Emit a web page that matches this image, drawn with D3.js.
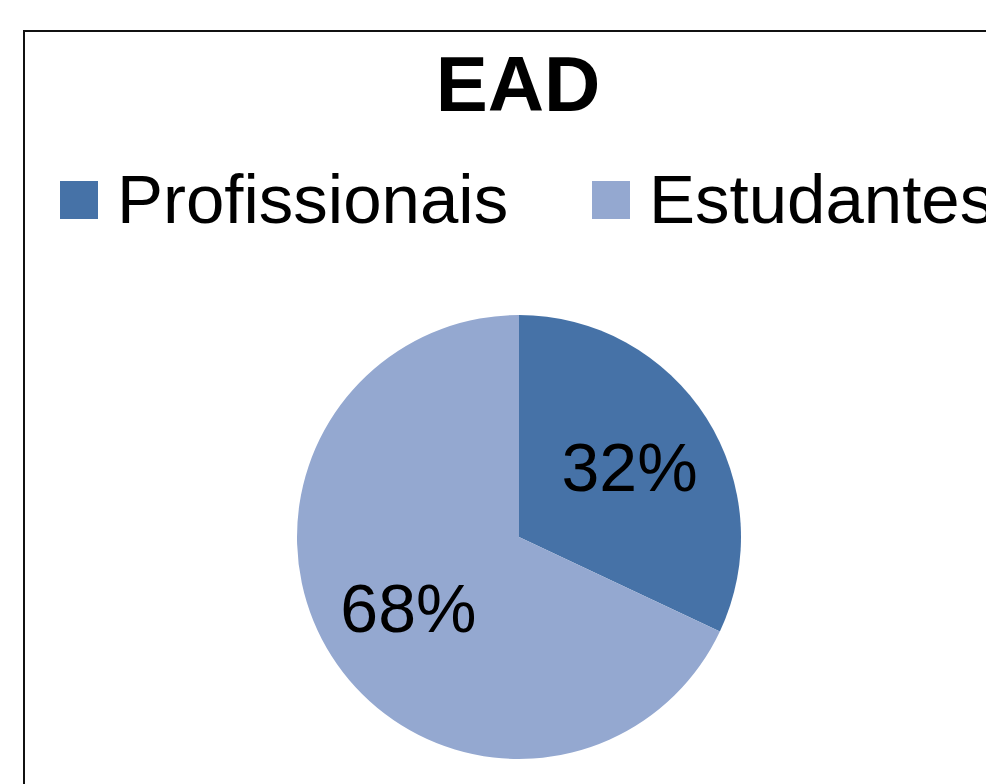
<!DOCTYPE html>
<html>
<head>
<meta charset="utf-8">
<script src="https://cdn.jsdelivr.net/npm/d3@7"></script>
<style>
  body { margin: 0; background: #fff; }
  text { font-family: "Liberation Sans", Arial, sans-serif; fill: #000; }
</style>
</head>
<body>
<div id="chart"></div>
<script>
// data
const categories = ["Profissionais", "Estudantes"];
const values = [32, 68];
const labels = ["32%", "68%"];
const colors = ["#4672a7", "#94a8d0"];

const width = 986, height = 784;

const svg = d3.select("#chart").append("svg")
    .attr("width", width)
    .attr("height", height);

// chart frame (runs off the right and bottom of the picture)
svg.append("rect")
    .attr("x", 24).attr("y", 31)
    .attr("width", 1100).attr("height", 900)
    .attr("fill", "#fff")
    .attr("stroke", "#111")
    .attr("stroke-width", 2);

// title
svg.append("text")
    .attr("x", 518).attr("y", 111)
    .attr("text-anchor", "middle")
    .attr("font-weight", "bold")
    .attr("font-size", 78)
    .text("EAD");

// legend
const legendX = [60, 592];
const legend = svg.append("g");
legend.selectAll("rect")
    .data(categories)
    .enter().append("rect")
    .attr("x", (d, i) => legendX[i])
    .attr("y", 181)
    .attr("width", 38).attr("height", 38)
    .attr("fill", (d, i) => colors[i]);
legend.selectAll("text")
    .data(categories)
    .enter().append("text")
    .attr("x", (d, i) => legendX[i] + 57)
    .attr("y", 223)
    .attr("font-size", 69)
    .text(d => d);

// pie
const cx = 519, cy = 537, radius = 222;
const pie = d3.pie().sort(null).value(d => d);
const arc = d3.arc().innerRadius(0).outerRadius(radius);
const labelArc = d3.arc().innerRadius(radius * 0.59).outerRadius(radius * 0.59);

const g = svg.append("g").attr("transform", `translate(${cx},${cy})`);
const slices = pie(values);

g.selectAll("path")
    .data(slices)
    .enter().append("path")
    .attr("d", arc)
    .attr("fill", (d, i) => colors[i]);

g.selectAll("text.lbl")
    .data(slices)
    .enter().append("text")
    .attr("class", "lbl")
    .attr("transform", d => {
        const c = labelArc.centroid(d);
        return `translate(${c[0]},${c[1]})`;
    })
    .attr("text-anchor", "middle")
    .attr("dy", "0.36em")
    .attr("font-size", 68)
    .text((d, i) => labels[i]);
</script>
</body>
</html>
